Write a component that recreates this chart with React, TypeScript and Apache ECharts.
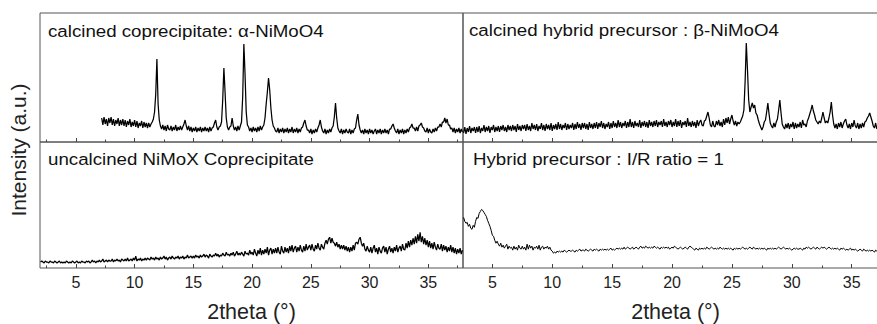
import React, { useEffect, useRef } from "react";
import * as echarts from "echarts";

// XRD scans, step 0.1° 2theta. Each chunk: [start 2theta, intensities...]
const X_STEP = 0.1;

const calcinedCoprecipitate: [number, number[]][] = [
  [7.2, [24, 17, 25, 18, 23, 16, 24, 19, 25]],
  [8.1, [17, 23, 16, 22, 18, 24, 16, 22, 17, 23]],
  [9.1, [16, 22, 15, 21, 17, 23, 15, 20, 16, 22]],
  [10.1, [15, 21, 14, 19, 16, 21, 14, 20, 15, 19]],
  [11.1, [14, 19, 15, 18, 20, 23, 30]],
  [11.8, [48, 83, 38, 22, 16]],
  [12.3, [13, 17, 12, 16, 11, 17, 13, 12]],
  [13.1, [16, 11, 15, 12, 17, 11, 15, 12, 16, 12]],
  [14.1, [15, 18, 22, 16, 12, 16]],
  [14.7, [11, 15, 10, 14, 11, 15, 10, 14, 11]],
  [15.6, [15, 10, 14, 11, 15, 11, 14, 10, 15, 11]],
  [16.6, [14, 15, 19, 22, 15]],
  [17.1, [12, 15, 16, 20]],
  [17.5, [42, 74, 50, 24, 15]],
  [18.0, [12, 15, 16]],
  [18.3, [24, 16, 12]],
  [18.6, [15, 11, 16, 12, 16, 20]],
  [19.2, [45, 98, 68, 30, 17]],
  [19.7, [15, 11, 14, 10, 15, 11, 14, 10, 15, 11, 16, 12, 15]],
  [21.0, [17, 24, 38, 50, 64, 52, 34, 22, 16]],
  [21.9, [14, 11, 10, 14, 9, 13, 10]],
  [22.6, [14, 9, 13, 10, 14, 9, 13, 10, 15, 9, 13, 10, 14, 9, 13, 10, 14]],
  [24.3, [15, 19, 22, 16, 12]],
  [24.8, [12, 9, 13, 8, 12, 9, 13, 10, 14]],
  [25.7, [17, 22, 15, 11]],
  [26.1, [9, 13, 8, 12, 9, 13, 10, 14, 16]],
  [27.0, [25, 39, 24, 14, 11]],
  [27.5, [9, 13, 8, 12, 9, 13, 10, 9, 13, 8, 12, 9, 13]],
  [28.8, [14, 22, 28, 17, 12]],
  [29.3, [9, 12, 8, 13, 9, 12, 8, 13, 9, 12, 8, 11, 13, 8, 12, 9, 13, 8, 12, 9, 13, 9, 12, 8, 13]],
  [31.8, [13, 16, 18, 14, 11]],
  [32.3, [9, 13, 8, 12, 9, 13, 8, 12, 9, 13, 10, 14]],
  [33.5, [15, 18, 14]],
  [33.8, [14, 11, 15, 11, 16]],
  [34.3, [17, 19, 15]],
  [34.6, [14, 11, 10, 14, 9, 13, 10, 9, 13, 10, 14, 11, 15]],
  [35.9, [15, 18, 15, 20, 20, 24, 19, 23, 17, 17, 13, 14]],
  [37.1, [10, 14, 9, 13, 10, 14, 9, 13, 10]],
];

const calcinedHybrid: [number, number[]][] = [
  [2.6, [9, 15, 8, 14, 10, 16, 9, 14, 11, 15]],
  [3.6, [9, 15, 10, 16, 9, 14, 11, 17, 10, 15]],
  [4.6, [11, 16, 9, 15, 12, 17, 10, 15, 11, 16]],
  [5.6, [10, 16, 12, 17, 11, 15, 10, 17, 12, 16]],
  [6.6, [11, 17, 12, 16, 10, 18, 12, 16, 11, 17]],
  [7.6, [13, 17, 11, 18, 12, 16, 11, 19, 13, 17]],
  [8.6, [12, 18, 11, 16, 13, 19, 12, 17, 11, 18]],
  [9.6, [13, 17, 12, 19, 11, 17, 13, 18, 12, 20]],
  [10.6, [13, 18, 12, 17, 14, 19, 12, 18, 13, 17]],
  [11.6, [14, 19, 12, 18, 13, 20, 14, 18, 12, 19]],
  [12.6, [14, 19, 13, 18, 12, 20, 14, 18, 13, 19]],
  [13.6, [14, 20, 13, 19, 15, 21, 14, 19, 13, 18]],
  [14.6, [15, 20, 13, 19, 14, 21, 15, 19, 14, 22]],
  [15.6, [15, 20, 14, 19, 16, 21, 14, 20, 15, 23]],
  [16.6, [15, 20, 14, 21, 16, 19, 15, 22, 14, 20]],
  [17.6, [16, 21, 15, 20, 14, 22, 16, 20, 15, 21]],
  [18.6, [16, 22, 15, 20, 17, 21, 15, 23, 16, 20]],
  [19.6, [15, 21, 17, 22, 15, 20, 16, 23, 15, 21]],
  [20.6, [16, 22, 14, 20, 17, 21, 15, 24, 16, 20]],
  [21.6, [15, 21, 16, 20, 14, 22, 16, 20, 22, 17]],
  [22.6, [16, 21, 22, 26, 30, 24, 17, 15, 21, 16]],
  [23.6, [15, 21, 17, 22, 16, 20, 15, 23, 17, 24]],
  [24.6, [19, 25, 18, 23, 27, 21, 17, 21, 16, 20]],
  [25.6, [18, 20, 23, 26, 32, 60, 99, 72, 42, 30]],
  [26.6, [35, 39, 34, 37, 29, 27, 22, 18, 15, 12]],
  [27.6, [15, 20, 22, 30, 39, 28, 19, 16, 14, 19]],
  [28.6, [15, 20, 23, 32, 42, 29, 18, 15, 13, 18]],
  [29.6, [14, 19, 13, 18, 15, 20, 13, 19, 14, 18]],
  [30.6, [15, 20, 14, 22, 17, 18, 15, 21, 24, 28]],
  [31.6, [32, 37, 31, 27, 22, 20, 18, 21, 19, 24]],
  [32.6, [30, 24, 19, 21, 19, 24, 30, 40, 27, 18]],
  [33.6, [14, 18, 13, 19, 15, 20, 14, 18, 21, 23]],
  [34.6, [17, 14, 18, 13, 19, 15, 22, 16, 14, 19]],
  [35.6, [13, 18, 14, 19, 15, 20, 21, 24, 26, 29]],
  [36.6, [25, 21, 16, 14, 19, 13, 17, 14, 18, 13]],
  [37.6, [17, 12, 18, 14, 15]],
];

const uncalcinedCoprecipitate: [number, number[]][] = [
  [2.0, [6, 7, 6, 5, 7, 6, 6, 5, 7, 6]],
  [3.0, [6, 5, 7, 6, 5, 6, 7, 5, 6, 5]],
  [4.0, [6, 5, 7, 6, 5, 6, 5, 7, 6, 5]],
  [5.0, [6, 7, 5, 6, 5, 7, 6, 6, 5, 7]],
  [6.0, [6, 7, 5, 6, 8, 6, 7, 5, 7, 6]],
  [7.0, [8, 6, 7, 9, 6, 7, 8, 6, 8, 7]],
  [8.0, [7, 9, 6, 8, 7, 9, 7, 8, 6, 9]],
  [9.0, [8, 7, 9, 7, 10, 7, 8, 9, 7, 10]],
  [10.0, [8, 12, 7, 9, 8, 10, 7, 9, 8, 10]],
  [11.0, [8, 10, 9, 8, 11, 9, 10, 8, 11, 9]],
  [12.0, [10, 8, 11, 9, 10, 12, 9, 11, 8, 10]],
  [13.0, [11, 9, 12, 10, 9, 11, 10, 12, 9, 11]],
  [14.0, [10, 12, 9, 11, 10, 13, 10, 11, 12, 10]],
  [15.0, [12, 10, 13, 11, 12, 10, 13, 11, 12, 14]],
  [16.0, [11, 13, 12, 10, 14, 12, 11, 13, 12, 15]],
  [17.0, [12, 14, 11, 13, 12, 15, 13, 12, 16, 13]],
  [18.0, [14, 12, 15, 13, 16, 12, 14, 17, 13, 15]],
  [19.0, [13, 16, 14, 12, 17, 14, 15, 13, 18, 14]],
  [20.0, [16, 13, 19, 15, 12, 18, 14, 20, 13, 18]],
  [21.0, [14, 19, 15, 21, 13, 18, 20, 14, 19, 15]],
  [22.0, [20, 15, 21, 16, 14, 22, 17, 15, 21, 16]],
  [23.0, [20, 15, 22, 17, 23, 16, 20, 22, 16, 21]],
  [24.0, [17, 23, 18, 16, 22, 17, 24, 18, 21, 23]],
  [25.0, [18, 24, 19, 17, 23, 19, 25, 20, 18, 24]],
  [26.0, [21, 19, 25, 28, 24, 29, 31, 25, 30, 26]],
  [27.0, [25, 22, 26, 21, 24, 19, 23, 19, 23, 18]],
  [28.0, [22, 17, 21, 16, 21, 17, 23, 18, 25, 26]],
  [29.0, [24, 29, 31, 25, 22, 25, 19, 17, 22, 18]],
  [30.0, [16, 21, 15, 20, 23, 16, 20, 14, 21, 17]],
  [31.0, [15, 20, 22, 16, 21, 14, 19, 22, 16, 20]],
  [32.0, [15, 21, 17, 23, 16, 20, 22, 17, 24, 19]],
  [33.0, [18, 25, 20, 27, 21, 28, 23, 30, 24, 32]],
  [34.0, [25, 34, 27, 36, 26, 32, 24, 30, 23, 28]],
  [35.0, [21, 27, 20, 25, 19, 26, 21, 18, 24, 20]],
  [36.0, [19, 24, 17, 23, 18, 22, 16, 21, 17, 23]],
  [37.0, [16, 21, 15, 20, 14, 19, 15, 20, 14, 18]],
];

const hybridPrecursor: [number, number[]][] = [
  [2.6, [51, 47, 45, 46, 42, 44, 40, 39, 43, 41]],
  [3.6, [47, 51, 50, 55, 57, 59, 58, 56, 54, 52]],
  [4.6, [48, 45, 42, 38, 33, 32, 28, 25, 27, 24]],
  [5.6, [22, 25, 21, 23, 20, 22, 24, 19, 22, 20]],
  [6.6, [21, 18, 22, 19, 21, 18, 23, 20, 19, 22]],
  [7.6, [19, 21, 18, 24, 19, 23, 20, 22, 18, 21]],
  [8.6, [20, 22, 19, 23, 18, 21, 22, 19, 21, 20]],
  [9.6, [22, 19, 21, 18, 17, 15, 16, 15, 17, 16]],
  [10.6, [17, 16, 17, 16, 18, 17, 16, 17, 18, 17]],
  [11.6, [17, 18, 17, 16, 18, 17, 18, 19, 17, 18]],
  [12.6, [18, 17, 19, 18, 17, 18, 19, 18, 17, 19]],
  [13.6, [18, 19, 18, 17, 19, 18, 19, 18, 19, 18]],
  [14.6, [19, 18, 19, 20, 18, 19, 18, 19, 20, 19]],
  [15.6, [20, 19, 20, 19, 21, 19, 20, 21, 20, 19]],
  [16.6, [20, 21, 19, 20, 21, 20, 19, 21, 22, 20]],
  [17.6, [21, 20, 22, 21, 20, 21, 20, 21, 20, 22]],
  [18.6, [21, 20, 21, 20, 19, 21, 20, 21, 20, 21]],
  [19.6, [20, 21, 19, 20, 21, 20, 22, 21, 20, 19]],
  [20.6, [20, 21, 20, 19, 20, 21, 20, 19, 21, 22]],
  [21.6, [21, 20, 19, 18, 20, 19, 18, 20, 19, 20]],
  [22.6, [19, 20, 19, 21, 20, 19, 20, 21, 20, 19]],
  [23.6, [20, 19, 20, 19, 21, 20, 19, 20, 19, 20]],
  [24.6, [19, 20, 19, 20, 19, 18, 20, 19, 20, 19]],
  [25.6, [20, 19, 20, 21, 20, 19, 20, 19, 20, 21]],
  [26.6, [20, 19, 21, 20, 19, 20, 19, 20, 19, 20]],
  [27.6, [19, 20, 19, 18, 20, 19, 20, 19, 20, 19]],
  [28.6, [20, 19, 20, 21, 20, 19, 20, 21, 20, 19]],
  [29.6, [20, 19, 20, 19, 18, 19, 20, 19, 20, 19]],
  [30.6, [19, 20, 19, 18, 20, 19, 21, 20, 21, 20]],
  [31.6, [19, 20, 21, 20, 19, 21, 20, 19, 20, 21]],
  [32.6, [20, 21, 20, 19, 20, 21, 20, 19, 20, 19]],
  [33.6, [20, 19, 20, 19, 18, 20, 19, 20, 19, 18]],
  [34.6, [19, 18, 19, 20, 18, 19, 18, 19, 18, 17]],
  [35.6, [18, 19, 18, 17, 19, 18, 17, 18, 17, 18]],
  [36.6, [17, 18, 17, 16, 18, 17, 18, 17, 16, 17]],
  [37.6, [17, 16, 17, 18, 17]],
];

const panelTitles = [
  "calcined coprecipitate: \u03b1-NiMoO4",
  "calcined hybrid precursor : \u03b2-NiMoO4",
  "uncalcined NiMoX Coprecipitate",
  "Hybrid precursor : I/R ratio = 1",
];
const majorTicks = [5, 10, 15, 20, 25, 30, 35];
const minorTicks = [2.5, 7.5, 12.5, 17.5, 22.5, 27.5, 32.5, 37.5];
const xName = "2theta (\u00b0)";
const yName = "Intensity (a.u.)";

const FONT = "'Liberation Sans', Arial, Helvetica, sans-serif";

function expand(chunks: [number, number[]][]): [number, number][] {
  const out: [number, number][] = [];
  for (const [x0, vals] of chunks) {
    vals.forEach((v, k) => out.push([+(x0 + k * X_STEP).toFixed(2), v]));
  }
  return out;
}

export default function App() {
  const ref = useRef<HTMLDivElement>(null);
  useEffect(() => {
    if (!ref.current) return;
    const chart = echarts.init(ref.current, undefined, { renderer: "svg" });
    const grids = [
      { left: 40, top: 13, width: 423, height: 129 },
      { left: 463, top: 13, width: 425, height: 129 },
      { left: 40, top: 142, width: 423, height: 127 },
      { left: 463, top: 142, width: 425, height: 127 },
    ];
    const ranges = [
      [1.95, 37.95],
      [2.55, 38.03],
      [1.95, 37.95],
      [2.55, 38.03],
    ];
    const yMax = [129, 129, 127, 127];
    const datasets = [calcinedCoprecipitate, calcinedHybrid, uncalcinedCoprecipitate, hybridPrecursor];
    const xAxes: any[] = [];
    grids.forEach((_, i) => {
      const bottom = i >= 2;
      xAxes.push({
        type: "value",
        gridIndex: i,
        position: "bottom",
        min: ranges[i][0],
        max: ranges[i][1],
        axisLine: { show: false },
        splitLine: { show: false },
        axisTick: { show: true, inside: true, length: 4, customValues: majorTicks, lineStyle: { color: "#444", width: 1 } },
        axisLabel: { show: bottom, customValues: majorTicks, fontSize: 16, color: "#222", margin: 6, fontFamily: FONT },
        name: bottom ? xName : "",
        nameLocation: "middle",
        nameGap: 33,
        nameTextStyle: { fontSize: 21.5, color: "#222", fontFamily: FONT },
      });
      xAxes.push({
        type: "value",
        gridIndex: i,
        position: "bottom",
        min: ranges[i][0],
        max: ranges[i][1],
        axisLine: { show: false },
        splitLine: { show: false },
        axisTick: { show: true, inside: true, length: 2.5, customValues: minorTicks, lineStyle: { color: "#444", width: 1 } },
        axisLabel: { show: false },
      });
    });
    const yAxes = grids.map((_, i) => ({
      type: "value",
      gridIndex: i,
      min: 0,
      max: yMax[i],
      show: false,
    }));
    const series = datasets.map((d, i) => ({
      type: "line",
      xAxisIndex: i * 2,
      yAxisIndex: i,
      data: expand(d),
      showSymbol: false,
      symbol: "none",
      lineStyle: { color: "#000", width: i === 3 ? 1 : 1.25 },
      clip: true,
    }));
    const titlePos = [
      [48, 31],
      [469, 30],
      [48, 159],
      [473, 159],
    ];
    const graphic: any[] = panelTitles.map((t, i) => ({
      type: "text",
      x: titlePos[i][0],
      y: titlePos[i][1],
      scaleX: 1.1,
      style: { text: t, fontSize: 17, fill: "#111", fontFamily: FONT, align: "left", verticalAlign: "middle" },
    }));
    graphic.push({
      type: "text",
      x: 18,
      y: 150,
      rotation: Math.PI / 2,
      style: { text: yName, fontSize: 21, fill: "#222", fontFamily: FONT, align: "center", verticalAlign: "middle" },
    });
    chart.setOption({
      animation: false,
      backgroundColor: "#fff",
      grid: grids.map((g) => ({ ...g, show: true, borderColor: "#555", borderWidth: 1, backgroundColor: "transparent" })),
      xAxis: xAxes,
      yAxis: yAxes,
      series,
      graphic,
    });
    return () => chart.dispose();
  }, []);
  return <div ref={ref} style={{ position: "absolute", left: 0, top: 0, width: 900, height: 324 }} />;
}
